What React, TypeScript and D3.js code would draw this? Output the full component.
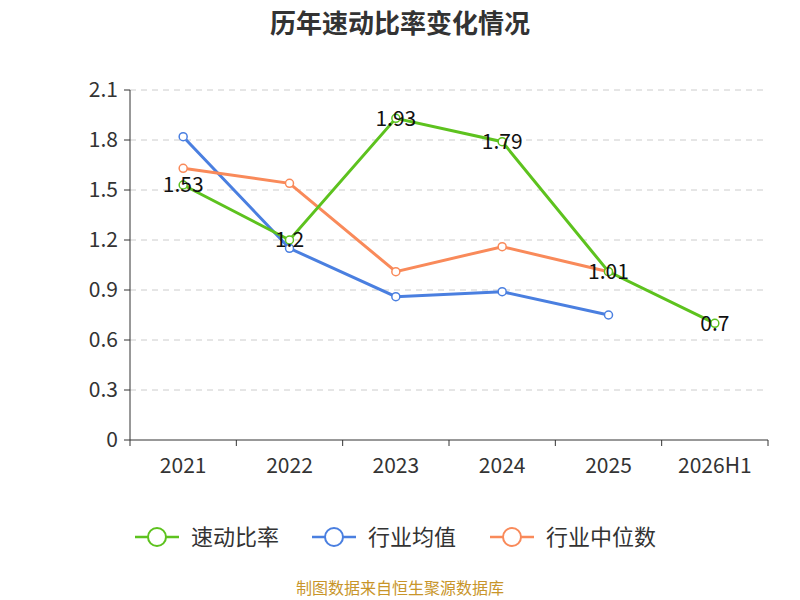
import React from "react";
import * as d3 from "d3";

const categories = ["2021", "2022", "2023", "2024", "2025", "2026H1"];
const quickRatio = [1.53, 1.2, 1.93, 1.79, 1.01, 0.7];
const industryMean = [1.82, 1.15, 0.86, 0.89, 0.75, null];
const industryMedian = [1.63, 1.54, 1.01, 1.16, 1.01, null];
const yTicks = [0, 0.3, 0.6, 0.9, 1.2, 1.5, 1.8, 2.1];
const seriesNames = ["速动比率", "行业均值", "行业中位数"];
const colors = ["#5dc21e", "#4a7fe0", "#f98a5a"];

export default function App() {
  const W = 800, H = 600;
  const left = 130, right = 768, top = 90, bottom = 440;
  const x = d3.scaleBand().domain(categories).range([left, right]);
  const y = d3.scaleLinear().domain([0, 2.1]).range([bottom, top]);
  const font = "'Noto Sans CJK SC', 'Noto Sans', sans-serif";
  const series = [quickRatio, industryMean, industryMedian];
  const cx = (i: number) => (x(categories[i]) as number) + x.bandwidth() / 2;
  const line = d3
    .line<any>()
    .defined((d) => d != null)
    .x((_, i) => cx(i))
    .y((d) => y(d));
  const legendX = [135, 312, 490];
  return (
    <svg width={W} height={H} style={{ position: "absolute", left: 0, top: 0, fontFamily: font }}>
      <rect width={W} height={H} fill="#fff" />
      <text x={400} y={33} textAnchor="middle" fontSize={26} fontWeight="bold" fill="#333">历年速动比率变化情况</text>
      {yTicks.map((t) => (
        <g key={t}>
          {t > 0 && <line x1={left} x2={right} y1={y(t)} y2={y(t)} stroke="#ccc" strokeDasharray="6,5" />}
          <line x1={left - 6} x2={left} y1={y(t)} y2={y(t)} stroke="#333" />
          <text x={left - 12} y={y(t)} dy="0.35em" textAnchor="end" fontSize={21} fill="#333">{String(t)}</text>
        </g>
      ))}
      <line x1={left} x2={left} y1={top} y2={bottom} stroke="#333" />
      <line x1={left} x2={right} y1={bottom} y2={bottom} stroke="#333" />
      {categories.map((c, i) => (
        <g key={c}>
          <line x1={x(c) as number} x2={x(c) as number} y1={bottom} y2={bottom + 6} stroke="#333" />
          <text x={cx(i)} y={bottom + 33} textAnchor="middle" fontSize={21} fill="#333">{c}</text>
        </g>
      ))}
      <line x1={right} x2={right} y1={bottom} y2={bottom + 6} stroke="#333" />
      {[1, 2, 0].map((si) => (
        <g key={si}>
          <path d={line(series[si] as any) || ""} fill="none" stroke={colors[si]} strokeWidth={3} />
          {series[si].map((v, i) =>
            v == null ? null : (
              <circle key={i} cx={cx(i)} cy={y(v)} r={4} fill="#fff" stroke={colors[si]} strokeWidth={1.5} />
            )
          )}
        </g>
      ))}
      {quickRatio.map((v, i) => (
        <text key={i} x={cx(i)} y={y(v)} dy="0.35em" textAnchor="middle" fontSize={21} fill="#111">{String(v)}</text>
      ))}
      {seriesNames.map((n, i) => (
        <g key={n}>
          <line x1={legendX[i]} x2={legendX[i] + 44} y1={537} y2={537} stroke={colors[i]} strokeWidth={2.5} />
          <circle cx={legendX[i] + 22} cy={537} r={9} fill="#fff" stroke={colors[i]} strokeWidth={2} />
          <text x={legendX[i] + 56} y={537} dy="0.35em" fontSize={22} fill="#333">{n}</text>
        </g>
      ))}
      <text x={400} y={594} textAnchor="middle" fontSize={16} fill="#c8952a">制图数据来自恒生聚源数据库</text>
    </svg>
  );
}
